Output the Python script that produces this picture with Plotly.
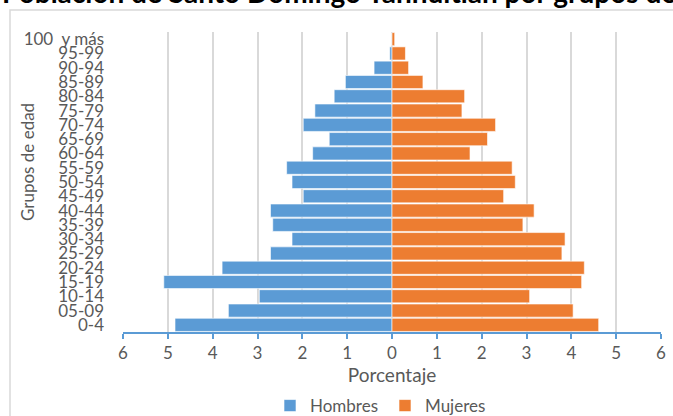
import plotly.graph_objects as go

grupos = ["0-4", "05-09", "10-14", "15-19", "20-24", "25-29", "30-34", "35-39",
          "40-44", "45-49", "50-54", "55-59", "60-64", "65-69", "70-74", "75-79",
          "80-84", "85-89", "90-94", "95-99", "100  y más"]
hombres = [4.84, 3.65, 2.96, 5.09, 3.79, 2.71, 2.23, 2.66, 2.71, 1.98, 2.23,
           2.35, 1.77, 1.40, 1.98, 1.72, 1.29, 1.04, 0.40, 0.05, 0.0]
mujeres = [4.61, 4.04, 3.07, 4.23, 4.29, 3.79, 3.86, 2.92, 3.17, 2.49, 2.75,
           2.68, 1.74, 2.13, 2.31, 1.56, 1.62, 0.69, 0.37, 0.30, 0.06]
tick_vals = [-6, -5, -4, -3, -2, -1, 0, 1, 2, 3, 4, 5, 6]
tick_text = ["6", "5", "4", "3", "2", "1", "0", "1", "2", "3", "4", "5", "6"]
titulo = "Población de Santo Domingo Yanhuitlán por grupos de edad"

BLUE = "#5B9BD5"
ORANGE = "#ED7D31"
GREY = "#595959"
FONT = "Lato"

fig = go.Figure()
fig.add_trace(go.Bar(
    y=grupos, x=[-v for v in hombres], orientation="h", name="Hombres",
    marker=dict(color=BLUE, line=dict(color="rgba(255,255,255,0.6)", width=1)),
))
fig.add_trace(go.Bar(
    y=grupos, x=mujeres, orientation="h", name="Mujeres",
    marker=dict(color=ORANGE, line=dict(color="rgba(255,255,255,0.6)", width=1)),
))

W, H = 673, 416
L, R, T, B = 123, 12, 32, 84
pw, ph = W - L - R, H - T - B

def px_x(p):
    return (p - L) / pw

def px_y(p):
    return (H - B - p) / ph

fig.update_layout(
    width=W, height=H,
    margin=dict(l=L, r=R, t=T, b=B, autoexpand=False),
    barmode="relative", bargap=0.08,
    plot_bgcolor="white", paper_bgcolor="white",
    font=dict(family=FONT, size=16, color=GREY),
    showlegend=True,
    legend=dict(orientation="h", x=px_x(270), xanchor="left",
                y=px_y(406), yanchor="middle",
                font=dict(family=FONT, size=17, color=GREY),
                itemwidth=30, entrywidth=70, entrywidthmode="pixels",
                traceorder="normal"),
    xaxis=dict(
        range=[-6, 6], tickvals=tick_vals, ticktext=tick_text,
        showgrid=True, gridcolor="#D9D9D9", gridwidth=1.5,
        zeroline=False, automargin=False,
        showline=True, linecolor=BLUE, linewidth=1.5,
        ticks="outside", ticklen=5, tickcolor=BLUE, tickwidth=1.5,
        tickfont=dict(family=FONT, size=17, color=GREY),
        title=dict(text="Porcentaje", standoff=4,
                   font=dict(family=FONT, size=19, color=GREY)),
        fixedrange=True,
    ),
    yaxis=dict(
        type="category", categoryorder="array", categoryarray=grupos,
        tickmode="array", tickvals=grupos, ticktext=grupos,
        showgrid=False, zeroline=False, showline=False, automargin=False,
        ticks="", ticklabelstandoff=18,
        tickfont=dict(family=FONT, size=17, color=GREY),
        fixedrange=True,
    ),
    shapes=[dict(type="rect", xref="paper", yref="paper",
                 x0=px_x(10), x1=px_x(700), y0=px_y(440), y1=px_y(10),
                 line=dict(color="#D9D9D9", width=1.5), fillcolor="rgba(0,0,0,0)",
                 layer="below")],
    annotations=[
        dict(text=titulo, xref="paper", yref="paper", x=px_x(0), xanchor="left",
             y=1, yanchor="bottom", yshift=21, showarrow=False,
             font=dict(family=FONT, size=28, color="black", weight="bold")),
        dict(text="Grupos de edad", xref="paper", yref="paper",
             x=px_x(27), xanchor="center", y=px_y(162), yanchor="middle",
             textangle=-90, showarrow=False,
             font=dict(family=FONT, size=17, color=GREY)),
    ],
)

fig.write_html(
    "out.html",
    config={"displayModeBar": False},
    post_script="document.body.style.margin='0';document.body.style.overflow='hidden';",
)
